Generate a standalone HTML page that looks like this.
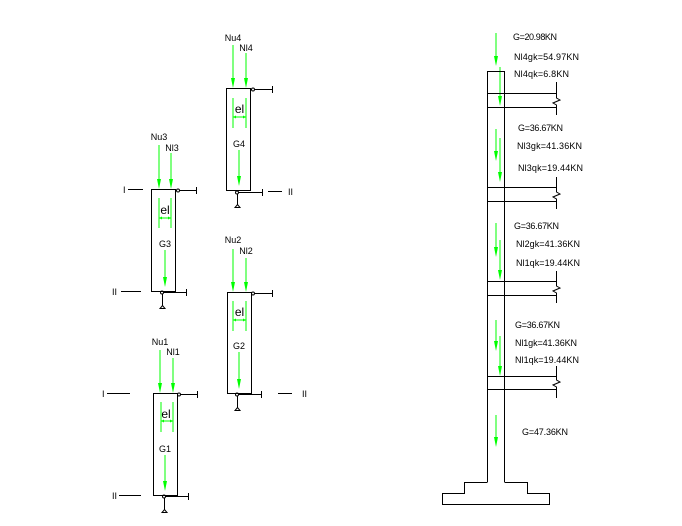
<!DOCTYPE html>
<html><head><meta charset="utf-8"><style>
html,body{margin:0;padding:0;background:#fff}
svg{display:block}
text{font-family:"Liberation Sans Narrow","Liberation Sans",sans-serif;font-size:9px;fill:#000}
</style></head><body>
<svg width="682" height="526" viewBox="0 0 682 526" xmlns="http://www.w3.org/2000/svg">
<g stroke="#00ff00" stroke-width="1" fill="none">
<!-- G4 -->
<line x1="233" y1="45" x2="233" y2="80"/><line x1="246" y1="53" x2="246" y2="80"/>
<line x1="233" y1="98" x2="233" y2="128"/><line x1="246" y1="98" x2="246" y2="128"/><line x1="233" y1="117" x2="246" y2="117"/>
<line x1="239" y1="150" x2="239" y2="178"/>
<!-- G3 -->
<line x1="159" y1="145" x2="159" y2="181"/><line x1="171" y1="153" x2="171" y2="181"/>
<line x1="159" y1="198" x2="159" y2="228"/><line x1="171" y1="198" x2="171" y2="228"/><line x1="159" y1="218" x2="171" y2="218"/>
<line x1="165" y1="250" x2="165" y2="280"/>
<!-- G2 -->
<line x1="233" y1="249" x2="233" y2="284"/><line x1="246" y1="258" x2="246" y2="284"/>
<line x1="233" y1="301" x2="233" y2="331"/><line x1="246" y1="301" x2="246" y2="331"/><line x1="233" y1="320" x2="246" y2="320"/>
<line x1="239" y1="352" x2="239" y2="382"/>
<!-- G1 -->
<line x1="160" y1="350" x2="160" y2="385"/><line x1="173" y1="358" x2="173" y2="385"/>
<line x1="161" y1="402" x2="161" y2="432"/><line x1="173" y1="402" x2="173" y2="432"/><line x1="161" y1="421" x2="173" y2="421"/>
<line x1="165" y1="455" x2="165" y2="484"/>
<!-- right -->
<line x1="496" y1="33" x2="496" y2="58"/><line x1="500" y1="67" x2="500" y2="98"/>
<line x1="496" y1="129" x2="496" y2="153"/><line x1="500" y1="138" x2="500" y2="174"/>
<line x1="496" y1="223" x2="496" y2="249"/><line x1="500" y1="240" x2="500" y2="272"/>
<line x1="496" y1="320" x2="496" y2="343"/><line x1="500" y1="336" x2="500" y2="368"/>
<line x1="496" y1="415" x2="496" y2="439"/>
</g>
<g fill="#00ff00">
<path d="M231 78h4l-2 10z"/><path d="M244 78h4l-2 10z"/><path d="M237 176h4l-2 10z"/>
<path d="M157 179h4l-2 10z"/><path d="M169 179h4l-2 10z"/><path d="M163 277h4l-2 10z"/>
<path d="M231 282h4l-2 10z"/><path d="M244 282h4l-2 10z"/><path d="M237 379h4l-2 10z"/>
<path d="M158 383h4l-2 10z"/><path d="M171 383h4l-2 10z"/><path d="M163 481h4l-2 10z"/>
<path d="M494 56h4l-2 10z"/><path d="M498 96h4l-2 10z"/>
<path d="M494 151h4l-2 10z"/><path d="M498 172h4l-2 10z"/>
<path d="M494 247h4l-2 10z"/><path d="M498 270h4l-2 10z"/>
<path d="M494 341h4l-2 10z"/><path d="M498 366h4l-2 10z"/>
<path d="M494 437h4l-2 10z"/>
<!-- el arrowheads -->
<path d="M233 117l3-1.5v3z"/><path d="M246 117l-3-1.5v3z"/>
<path d="M159 218l3-1.5v3z"/><path d="M171 218l-3-1.5v3z"/>
<path d="M233 320l3-1.5v3z"/><path d="M246 320l-3-1.5v3z"/>
<path d="M161 421l3-1.5v3z"/><path d="M173 421l-3-1.5v3z"/>
</g>
<g stroke="#000" stroke-width="1" fill="none">
<rect x="226.5" y="88.5" width="24" height="102"/>
<rect x="151.5" y="189.5" width="24" height="102"/>
<rect x="227.5" y="292.5" width="24" height="101"/>
<rect x="153.5" y="393.5" width="24" height="102"/>
<!-- G4 -->
<circle cx="253" cy="89.5" r="1.5"/><line x1="254.5" y1="89.5" x2="272" y2="89.5"/><line x1="272.5" y1="86" x2="272.5" y2="93"/>
<circle cx="237" cy="192.5" r="1.5"/><line x1="238.5" y1="192.5" x2="262" y2="192.5"/><line x1="262.5" y1="189" x2="262.5" y2="196"/>
<line x1="237.5" y1="194" x2="237.5" y2="205"/><path d="M235 207.5h5l-2.5-3z"/>
<line x1="268" y1="191.5" x2="282" y2="191.5"/>
<!-- G3 -->
<circle cx="178" cy="190.5" r="1.5"/><line x1="179.5" y1="190.5" x2="196" y2="190.5"/><line x1="196.5" y1="187" x2="196.5" y2="194"/>
<circle cx="162" cy="292.5" r="1.5"/><line x1="163.5" y1="292.5" x2="186" y2="292.5"/><line x1="186.5" y1="289" x2="186.5" y2="296"/>
<line x1="162.5" y1="294" x2="162.5" y2="306"/><path d="M160 308.5h5l-2.5-3z"/>
<line x1="128" y1="189.5" x2="143" y2="189.5"/><line x1="121" y1="291.5" x2="141" y2="291.5"/>
<!-- G2 -->
<circle cx="253" cy="293.5" r="1.5"/><line x1="254.5" y1="293.5" x2="272" y2="293.5"/><line x1="272.5" y1="290" x2="272.5" y2="297"/>
<circle cx="237" cy="394.5" r="1.5"/><line x1="238.5" y1="394.5" x2="261" y2="394.5"/><line x1="261.5" y1="391" x2="261.5" y2="398"/>
<line x1="237.5" y1="396" x2="237.5" y2="408"/><path d="M235 410.5h5l-2.5-3z"/>
<line x1="278" y1="393.5" x2="292" y2="393.5"/>
<!-- G1 -->
<circle cx="179" cy="394.5" r="1.5"/><line x1="180.5" y1="394.5" x2="197" y2="394.5"/><line x1="197.5" y1="391" x2="197.5" y2="398"/>
<circle cx="164" cy="496.5" r="1.5"/><line x1="165.5" y1="496.5" x2="188" y2="496.5"/><line x1="188.5" y1="493" x2="188.5" y2="500"/>
<line x1="164.5" y1="498" x2="164.5" y2="510"/><path d="M162 512.5h5l-2.5-3z"/>
<line x1="107" y1="393.5" x2="130" y2="393.5"/><line x1="119" y1="495.5" x2="141" y2="495.5"/>
<!-- right column -->
<line x1="487.5" y1="71" x2="487.5" y2="482"/><line x1="504.5" y1="71" x2="504.5" y2="482"/>
<line x1="487" y1="71.5" x2="505" y2="71.5"/>
<path d="M487 93.5H556M487 107.5H556M556.5 82V98L560 100L553 103L556.5 105V115"/>
<path d="M487 187.5H556M487 201.5H556M556.5 177V192L560 194L553 197L556.5 199V209"/>
<path d="M487 281.5H556M487 295.5H556M556.5 271V286L560 288L553 291L556.5 293V303"/>
<path d="M487 376.5H556M487 389.5H556M556.5 366V380L560 382L553 385L556.5 387V398"/>
<path d="M487.5 482.5H464.5V493.5H442.5V504.5H549.5V493.5H527.5V482.5H504.5"/>
</g>
<g text-anchor="middle">
<text x="233" y="41">Nu4</text><text x="246" y="51">Nl4</text>
<text x="239.5" y="113" style="font-size:12px">el</text><text x="239" y="147">G4</text>
<text x="159" y="140">Nu3</text><text x="172" y="151">Nl3</text>
<text x="165" y="214" style="font-size:12px">el</text><text x="165" y="247">G3</text>
<text x="233" y="243">Nu2</text><text x="246" y="254">Nl2</text>
<text x="239.5" y="316" style="font-size:12px">el</text><text x="239" y="349">G2</text>
<text x="160" y="345">Nu1</text><text x="173" y="355">Nl1</text>
<text x="166" y="418" style="font-size:12px">el</text><text x="165" y="452">G1</text>
</g>
<g>
<text x="123" y="193">I</text><text x="112" y="295">II</text>
<text x="288" y="195">II</text>
<text x="302" y="397">II</text>
<text x="102" y="397">I</text><text x="112" y="499">II</text>
</g>
<g>
<text x="513" y="40" textLength="44">G=20.98KN</text>
<text x="514" y="60" textLength="65">Nl4gk=54.97KN</text>
<text x="514" y="77" textLength="55">Nl4qk=6.8KN</text>
<text x="518" y="131" textLength="45">G=36.67KN</text>
<text x="517" y="149" textLength="65">Nl3gk=41.36KN</text>
<text x="518" y="171" textLength="65">Nl3qk=19.44KN</text>
<text x="514" y="229" textLength="45">G=36.67KN</text>
<text x="516" y="247" textLength="64">Nl2gk=41.36KN</text>
<text x="516" y="266" textLength="64">Nl1qk=19.44KN</text>
<text x="515" y="328" textLength="45">G=36.67KN</text>
<text x="515" y="346" textLength="62">Nl1gk=41.36KN</text>
<text x="515" y="363" textLength="64">Nl1qk=19.44KN</text>
<text x="522" y="435" textLength="46">G=47.36KN</text>
</g>
</svg>
</body></html>
